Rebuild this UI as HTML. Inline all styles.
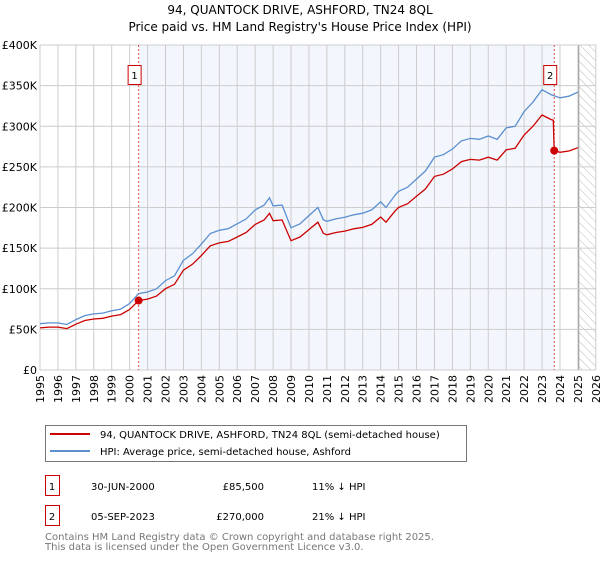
<!DOCTYPE html>
<html><head><meta charset="utf-8"><style>
body{margin:0;background:#fff;font-family:"DejaVu Sans","Liberation Sans",sans-serif;}
</style></head><body>
<svg width="600" height="560" xmlns="http://www.w3.org/2000/svg" font-family="DejaVu Sans, Liberation Sans, sans-serif">
<text x="300" y="14" text-anchor="middle" font-size="12">94, QUANTOCK DRIVE, ASHFORD, TN24 8QL</text>
<text x="300" y="31" text-anchor="middle" font-size="12">Price paid vs. HM Land Registry's House Price Index (HPI)</text>
<g id="plot"></g>
<g>
<rect x="45.5" y="425.5" width="421" height="36" fill="#fff" stroke="#777"/>
<line x1="50" y1="434" x2="90" y2="434" stroke="#cc0000" stroke-width="2"/>
<text x="100" y="438" font-size="10">94, QUANTOCK DRIVE, ASHFORD, TN24 8QL (semi-detached house)</text>
<line x1="50" y1="451" x2="90" y2="451" stroke="#5b8fd0" stroke-width="2"/>
<text x="100" y="455" font-size="10">HPI: Average price, semi-detached house, Ashford</text>
</g>
<g font-size="10">
<rect x="45.5" y="475.5" width="14" height="20" fill="#fff" stroke="#cc0000"/>
<text x="52" y="490" text-anchor="middle">1</text>
<text x="91" y="490">30-JUN-2000</text><text x="264" y="490" text-anchor="end">£85,500</text><text x="312" y="490">11% ↓ HPI</text>
<rect x="45.5" y="505.5" width="14" height="20" fill="#fff" stroke="#cc0000"/>
<text x="52" y="520" text-anchor="middle">2</text>
<text x="91" y="520">05-SEP-2023</text><text x="264" y="520" text-anchor="end">£270,000</text><text x="312" y="520">21% ↓ HPI</text>
</g>
<text x="45" y="540" font-size="10" fill="#777">Contains HM Land Registry data © Crown copyright and database right 2025.</text>
<text x="45" y="550" font-size="10" fill="#777">This data is licensed under the Open Government Licence v3.0.</text>
</svg>
<script>
const hpiYears=[1995,1995.5,1996,1996.5,1997,1997.5,1998,1998.5,1999,1999.5,2000,2000.5,2001,2001.5,2002,2002.5,2003,2003.5,2004,2004.5,2005,2005.5,2006,2006.5,2007,2007.5,2007.8,2008,2008.5,2009,2009.5,2010,2010.5,2010.8,2011,2011.5,2012,2012.5,2013,2013.5,2014,2014.3,2014.8,2015,2015.5,2016,2016.5,2017,2017.5,2018,2018.5,2019,2019.5,2020,2020.5,2021,2021.5,2022,2022.5,2023,2023.5,2024,2024.5,2025];
const hpiValues=[57,58,58,56,62,67,69,70,73,75,82,94,96,100,110,116,135,143,155,168,172,174,180,186,197,203,212,202,203,175,180,190,200,185,183,186,188,191,193,197,207,200,215,220,225,235,245,262,265,272,282,285,284,288,284,298,300,318,330,345,339,335,337,342];
const saleYears=[2000.5,2023.68];
const salePrices=[85.5,270];
const yTicks=[0,50,100,150,200,250,300,350,400];
const yTickLabels=["£0","£50K","£100K","£150K","£200K","£250K","£300K","£350K","£400K"];
const xTicks=[1995,1996,1997,1998,1999,2000,2001,2002,2003,2004,2005,2006,2007,2008,2009,2010,2011,2012,2013,2014,2015,2016,2017,2018,2019,2020,2021,2022,2023,2024,2025,2026];
const X0=40,X1=596,Y0=370,Y1=45;
const sx=y=>X0+(y-1995)*17.93;
const sy=v=>Y0-v*(Y0-Y1)/400;
const NS="http://www.w3.org/2000/svg";
const g=document.getElementById('plot');
function mk(t,a,p){const e=document.createElementNS(NS,t);for(const k in a)e.setAttribute(k,a[k]);(p||g).appendChild(e);return e;}
function hpiAt(y){for(let i=1;i<hpiYears.length;i++){if(y<=hpiYears[i]){const t=(y-hpiYears[i-1])/(hpiYears[i]-hpiYears[i-1]);return hpiValues[i-1]+t*(hpiValues[i]-hpiValues[i-1]);}}return hpiValues[hpiValues.length-1];}
let bg=mk('rect',{x:X0,y:Y1,width:X1-X0,height:Y0-Y1,fill:'#fff'});

let sh=mk('rect',{x:sx(saleYears[0]),y:Y1,width:sx(saleYears[1])-sx(saleYears[0]),height:Y0-Y1,fill:'#eef3fc',opacity:0.7});

const defs=mk('defs',{});
const pat=mk('pattern',{id:'hatch',width:6,height:6,patternUnits:'userSpaceOnUse',patternTransform:'rotate(-45)'},defs);
mk('line',{x1:0,y1:0,x2:0,y2:6,stroke:'#bbb','stroke-width':1},pat);
let hz=mk('rect',{x:sx(2025.05),y:Y1,width:X1-sx(2025.05),height:Y0-Y1,fill:'url(#hatch)'});

xTicks.forEach(y=>{let l=mk('line',{x1:sx(y),x2:sx(y),y1:Y1,y2:Y0,stroke:'#ccc'});
let t=mk('text',{x:0,y:0,'font-size':11,'text-anchor':'end',transform:`translate(${sx(y)+4},${Y0+5}) rotate(-90)`});t.textContent=y;});
let he=mk('line',{x1:sx(2025.05),x2:sx(2025.05),y1:Y1,y2:Y0,stroke:'#999'});
yTicks.forEach((v,i)=>{let l=mk('line',{x1:X0,x2:X1,y1:sy(v),y2:sy(v),stroke:'#ccc'});
let t=mk('text',{x:X0-3,y:sy(v)+4,'font-size':11,'text-anchor':'end'});t.textContent=yTickLabels[i];});
saleYears.forEach((y,i)=>{let l=mk('line',{x1:sx(y),x2:sx(y),y1:Y1,y2:Y0,stroke:'#e05050','stroke-dasharray':'2,2'});
let r=mk('rect',{x:sx(y)-10.5,y:65.5,width:13,height:19,fill:'#fff',stroke:'#cc0000'});
let t=mk('text',{x:sx(y)-4,y:79,'font-size':10,'text-anchor':'middle'});t.textContent=i+1;});
let d=hpiYears.map((y,i)=>(i?'L':'M')+sx(y).toFixed(1)+','+sy(hpiValues[i]).toFixed(1)).join('');
let hp=mk('path',{d:d,fill:'none',stroke:'#5b8fd0','stroke-width':1.3});

const r1=salePrices[0]/hpiAt(saleYears[0]), r2=salePrices[1]/hpiAt(saleYears[1]);
let pts=[];
hpiYears.forEach((y,i)=>{if(y<saleYears[1])pts.push([y,hpiValues[i]*r1]);});
pts.push([saleYears[1]-0.05,hpiAt(saleYears[1]-0.05)*r1]);
pts.push([saleYears[1],salePrices[1]]);
hpiYears.forEach((y,i)=>{if(y>saleYears[1])pts.push([y,hpiValues[i]*r2]);});
let pp=mk('path',{d:pts.map((p,i)=>(i?'L':'M')+sx(p[0]).toFixed(1)+','+sy(p[1]).toFixed(1)).join(''),fill:'none',stroke:'#cc0000','stroke-width':1.3});

saleYears.forEach((y,i)=>{let c=mk('circle',{cx:sx(y),cy:sy(salePrices[i]),r:4,fill:'#cc0000'});});
</script>
</body></html>
